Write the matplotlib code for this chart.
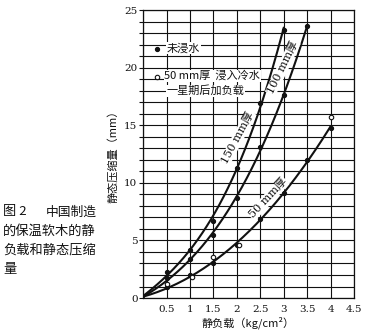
import numpy as np
import matplotlib
matplotlib.use("Agg")
import matplotlib.pyplot as plt

plt.rcParams['font.family'] = ['Noto Sans CJK SC', 'DejaVu Sans']

# Static load (kg/cm^2) and compression (mm) for three cork thicknesses
load_150 = [0, 0.5, 1.0, 1.5, 2.0, 2.5, 3.0]
comp_150 = [0, 2.3, 4.2, 6.7, 11.3, 16.9, 23.3]

load_100 = [0, 0.5, 1.0, 1.5, 2.0, 2.5, 3.0, 3.5]
comp_100 = [0, 1.7, 3.4, 5.5, 8.7, 13.1, 17.6, 23.6]

load_50 = [0, 0.5, 1.0, 1.5, 2.0, 2.5, 3.0, 3.5, 4.0]
comp_50 = [0, 1.0, 2.0, 3.0, 4.6, 6.9, 9.1, 12.0, 14.8]

# 50 mm samples soaked in cold water for a week before loading
load_soaked = [0.5, 1.05, 1.5, 2.05, 4.0]
comp_soaked = [1.25, 1.85, 3.6, 4.6, 15.7]

x_tick_labels = ["0.5", "1", "1.5", "2", "2.5", "3", "3.5", "4", "4.5"]
y_ticks = [0, 5, 10, 15, 20, 25]

curve_labels = ["150 mm厚", "100 mm厚", "50 mm厚"]
caption_head = "图 2"
caption_lines = ["中国制造", "的保温软木的静", "负载和静态压缩", "量"]

fig = plt.figure(figsize=(3.65, 3.36), dpi=100)
ax = fig.add_axes([0.392, 0.113, 0.578, 0.857])
ink = "#111111"

ax.set_xlim(0, 4.5)
ax.set_ylim(0, 25)
ax.set_xticks(np.arange(0, 4.51, 0.5))
ax.set_xticklabels([""] + x_tick_labels, fontsize=7.5, family=['DejaVu Serif'])
ax.set_yticks(np.arange(0, 25.1, 1))
ax.set_yticklabels([str(v) if v in y_ticks else "" for v in range(26)],
                   fontsize=7.5, family=['DejaVu Serif'])
ax.tick_params(axis='y', length=3, width=0.8, color=ink, pad=1, labelcolor=ink)
ax.tick_params(axis='x', length=0, pad=5, labelcolor=ink)
ax.grid(True, color=ink, linewidth=0.8)
for s in ax.spines.values():
    s.set_color(ink)
    s.set_linewidth(0.9)

def smooth(xs, ys, deg=3):
    coef = np.polyfit(xs, ys, deg)
    xx = np.linspace(0, xs[-1], 200)
    yy = np.polyval(coef, xx)
    yy[0] = 0
    return xx, np.clip(yy, 0, None)

for xs, ys in [(load_150, comp_150), (load_100, comp_100), (load_50, comp_50)]:
    xx, yy = smooth(xs, ys)
    ax.plot(xx, yy, color=ink, linewidth=1.5, zorder=3)
    ax.plot(xs[1:], ys[1:], 'o', color=ink, markersize=2.8, zorder=4)

ax.plot(load_soaked, comp_soaked, 'o', markerfacecolor='white',
        markeredgecolor=ink, markersize=3.2, markeredgewidth=0.8, zorder=5)

# Legend written directly on the grid
bb = dict(facecolor='white', edgecolor='none', pad=0.5)
ax.plot([0.3], [21.6], 'o', color=ink, markersize=2.8, zorder=5)
ax.text(0.5, 21.7, "未浸水", fontsize=8, va='center', ha='left', color=ink, bbox=bb, zorder=6)
ax.plot([0.3], [19.2], 'o', markerfacecolor='white', markeredgecolor=ink,
        markersize=3.2, markeredgewidth=0.8, zorder=5)
ax.text(0.45, 19.3, "50 mm厚  浸入冷水", fontsize=8, va='center', ha='left', color=ink, bbox=bb, zorder=6)
ax.text(0.5, 18.0, "一星期后加负载", fontsize=8, va='center', ha='left', color=ink, bbox=bb, zorder=6)

# Thickness labels along the curves
lab_font = ['DejaVu Serif', 'Noto Sans CJK SC']
ax.text(2.02, 13.9, curve_labels[0], fontsize=8, rotation=62, ha='center', va='center',
        color=ink, family=lab_font, bbox=bb, zorder=6)
ax.text(2.98, 20.0, curve_labels[1], fontsize=8, rotation=64, ha='center', va='center',
        color=ink, family=lab_font, bbox=bb, zorder=6)
ax.text(2.67, 8.65, curve_labels[2], fontsize=8, rotation=47, ha='center', va='center',
        color=ink, family=lab_font, bbox=bb, zorder=6)

ax.set_xlabel("静负载（kg/cm²）", fontsize=8, color=ink, labelpad=2)
ax.set_ylabel("静态压缩量（mm）", fontsize=8, color=ink)
ax.yaxis.set_label_coords(-0.12, 0.5)

# Figure caption at the lower left
fig.text(0.008, 1 - 212 / 336, caption_head, fontsize=9.5, color=ink,
         ha='left', va='center')
fig.text(46 / 365, 1 - 212 / 336, caption_lines[0], fontsize=9.2, color=ink,
         ha='left', va='center')
for i, line in enumerate(caption_lines[1:], start=1):
    fig.text(0.008, 1 - (212 + 19 * i) / 336, line, fontsize=9.5, color=ink,
             ha='left', va='center')

fig.savefig("out.png", dpi=100, facecolor='white')
